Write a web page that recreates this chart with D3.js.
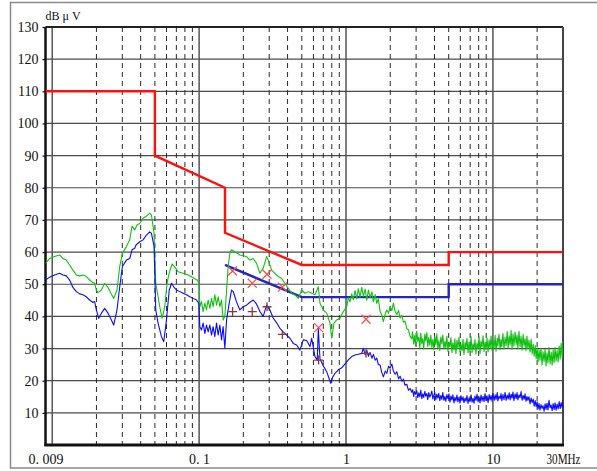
<!DOCTYPE html>
<html>
<head>
<meta charset="utf-8">
<script src="https://cdn.jsdelivr.net/npm/d3@7"></script>
<style>
  html, body { margin: 0; padding: 0; background: #fff; }
  svg { display: block; }
  text { font-family: "Liberation Serif", "DejaVu Serif", serif; fill: #111; }
</style>
</head>
<body>
<svg id="chart" width="597" height="471"></svg>
<script>
// Axis ticks
const yTickValues = [10, 20, 30, 40, 50, 60, 70, 80, 90, 100, 110, 120, 130];
const xTickValues = [0.009, 0.1, 1, 10, 30];
const xTickLabels = ["0. 009", "0. 1", "1", "10", "30MHz"];
const yUnit = "dB μ V";

// Limit lines (MHz, dBμV)
const qpLimitFreq = [0.009, 0.05, 0.05, 0.15, 0.15, 0.5, 5, 5, 30];
const qpLimitLevel = [110, 110, 90, 80, 66, 56, 56, 60, 60];
const avLimitFreq = [0.15, 0.5, 5, 5, 30];
const avLimitLevel = [56, 46, 46, 50, 50];

// Peak detector sweep, lower band [MHz, dBμV]
const peakSweep = [
  [0.009, 56.5], [0.0096, 58], [0.01038, 58.6], [0.01123, 59.1], [0.01183, 58], [0.01248, 57.5],
  [0.01314, 56], [0.01384, 54.4], [0.0146, 52.9], [0.01537, 52.6], [0.01619, 52.9], [0.01708, 52.4],
  [0.01798, 51.3], [0.01894, 50.5], [0.01945, 50.3], [0.01998, 48.2], [0.02049, 47.4], [0.02161, 48.2],
  [0.02276, 50.3], [0.02397, 49], [0.02528, 46.9], [0.02621, 45.6], [0.02761, 48.2], [0.0288, 55.5],
  [0.03004, 59.6], [0.032, 61.7], [0.03371, 63.8], [0.03494, 68.1], [0.03645, 66.9], [0.0378, 68.4],
  [0.03943, 68.9], [0.04154, 70.5], [0.0438, 71.2], [0.04613, 72.1], [0.04738, 71.5], [0.04935, 65.8],
  [0.05068, 50.3], [0.05254, 46.1], [0.05397, 43], [0.05596, 39.4], [0.05838, 43], [0.06052, 50.3],
  [0.06245, 53.4], [0.06546, 56.3], [0.06829, 55.3], [0.07192, 53.9], [0.0778, 53.4], [0.08414, 52.9],
  [0.091, 52], [0.09691, 51.3], [0.1, 50.3], [0.1011, 43], [0.1038, 44.6], [0.1065, 41.5],
  [0.1094, 44.1], [0.1123, 42], [0.1152, 45.1], [0.1183, 42.5], [0.1215, 45.6], [0.1245, 43],
  [0.1279, 46.7], [0.1314, 43.5], [0.1348, 46.1], [0.1384, 43], [0.1421, 45.1], [0.1457, 38.9],
  [0.1497, 40], [0.1538, 48.2], [0.1577, 55.5], [0.1619, 59.6], [0.1663, 60.7], [0.1752, 60.1],
  [0.1894, 59.1], [0.2104, 58.6], [0.2216, 57.5], [0.2334, 58], [0.2462, 56.5], [0.2593, 53.4],
  [0.2731, 55], [0.2881, 58.6], [0.2954, 57.5], [0.3115, 54.4], [0.3281, 53.4], [0.3455, 52.4],
  [0.3645, 51.8], [0.3839, 50.3], [0.4043, 48.7], [0.4264, 47.2], [0.4493, 46.7], [0.473, 45.6],
  [0.4989, 48.2], [0.5254, 47.2], [0.5534, 47.7], [0.5837, 47.2], [0.6148, 46.7], [0.6475, 49.2],
  [0.665, 44.1], [0.7003, 42], [0.7387, 41], [0.778, 37.9], [0.799, 33.2], [0.8284, 37.9],
  [0.8643, 38.9], [0.91, 39.4], [0.9585, 41.5], [1.0111, 43], [1.0368, 45.8], [1.0648, 44.5],
  [1.0936, 47], [1.1215, 45.2], [1.1518, 48], [1.1827, 45.5], [1.213, 48.6], [1.2458, 46],
  [1.2794, 49], [1.3119, 46.2], [1.35, 48.5], [1.384, 45], [1.42, 48.2], [1.4576, 45.8],
  [1.5, 47.6], [1.5351, 44.5], [1.58, 46.8], [1.6193, 44], [1.66, 45.5], [1.7055, 41.5],
  [1.75, 40.5], [1.7961, 38.4], [1.85, 40.8], [1.8943, 42], [1.95, 41], [1.9953, 43],
  [2.05, 41.8], [2.1014, 44.1], [2.16, 41.5], [2.2163, 40.6], [2.28, 41.8], [2.3341, 39.5],
  [2.4, 40.3], [2.4582, 38.2], [2.52, 38.5], [2.593, 36.2], [2.66, 35.8], [2.731, 33.8]
];

// Average detector sweep, lower band [MHz, dBμV]
const avgSweep = [
  [0.009, 51.3], [0.0096, 52.2], [0.01038, 52.9], [0.01123, 53.4], [0.01183, 52.9], [0.01248, 52.6],
  [0.01314, 51.3], [0.01384, 49], [0.0146, 47.7], [0.01537, 47], [0.01619, 46.7], [0.01708, 46.1],
  [0.01798, 45.1], [0.01894, 44.3], [0.01945, 44.6], [0.01998, 42], [0.02072, 39.4], [0.02161, 41],
  [0.02276, 42.5], [0.02397, 41], [0.02528, 38.9], [0.02621, 37.3], [0.02761, 42], [0.0288, 49.2],
  [0.03004, 55.5], [0.032, 57.5], [0.03371, 58], [0.03494, 60.7], [0.03645, 61.2], [0.0372, 62.2],
  [0.03943, 63.2], [0.04154, 63.8], [0.0438, 65.3], [0.04613, 66.3], [0.04738, 65.8], [0.04935, 61.7],
  [0.05068, 42], [0.05254, 37.9], [0.05543, 33.7], [0.05745, 32.1], [0.05994, 38.9], [0.0626, 48.2],
  [0.0649, 50.3], [0.0672, 49.2], [0.07015, 48.2], [0.0739, 47.7], [0.0778, 47.2], [0.0821, 46.7],
  [0.0864, 46.1], [0.091, 45.6], [0.096, 45.1], [0.0995, 44.1], [0.1011, 36.8], [0.1038, 35.8],
  [0.1065, 37.9], [0.1094, 34.7], [0.1123, 37.3], [0.1152, 35.2], [0.1183, 37.3], [0.1215, 34.2],
  [0.1245, 36.8], [0.1279, 33.7], [0.1314, 37.9], [0.1348, 34.2], [0.1384, 37.3], [0.1421, 32.7],
  [0.1457, 36.8], [0.1497, 30.1], [0.1538, 38.9], [0.1594, 43.5], [0.1663, 48.2], [0.1706, 47.7],
  [0.1752, 46.1], [0.1798, 44.5], [0.1894, 42], [0.1995, 43], [0.2104, 43.5], [0.2216, 44.4],
  [0.2334, 45.1], [0.2462, 43.8], [0.2593, 41.5], [0.2731, 40], [0.2881, 43.5], [0.3033, 42],
  [0.3194, 39.5], [0.337, 38], [0.3549, 36.3], [0.3738, 35.2], [0.3943, 34.2], [0.4152, 33.2],
  [0.4373, 31.6], [0.4613, 31.1], [0.4858, 29.5], [0.5116, 32.7], [0.5397, 32.5], [0.5683, 30.6],
  [0.5837, 33.2], [0.6148, 27.5], [0.6374, 26.4], [0.6475, 36.2], [0.665, 26.8], [0.7003, 24.6],
  [0.7387, 22.8], [0.7866, 19.2], [0.8116, 21.1], [0.8414, 22.3], [0.8863, 23.4], [0.9348, 24],
  [0.9845, 25.2], [1.0368, 26.5], [1.0936, 27.5], [1.1518, 28], [1.213, 28.2], [1.2794, 28.5],
  [1.3119, 30.1], [1.35, 28], [1.384, 29.5], [1.42, 27.6], [1.4576, 28.8], [1.5, 27],
  [1.5351, 28.2], [1.58, 26.4], [1.6193, 27], [1.66, 25], [1.7055, 24.9], [1.75, 22.6],
  [1.7961, 21.2], [1.85, 23], [1.8943, 22.3], [1.95, 24.5], [1.9953, 23.9], [2.05, 25.2],
  [2.1014, 23], [2.16, 22], [2.2163, 22.8], [2.28, 20.6], [2.3341, 21.4], [2.4, 19.8],
  [2.4582, 20.5], [2.52, 18.6], [2.593, 18.9], [2.66, 17], [2.731, 17.6]
];

// Upper band sweep: [MHz, peak dBμV, average dBμV]
const hfSweep = [
  [2.80, 33.0, 16.4], [2.84, 35.2, 17.2], [2.89, 31.4, 15.1], [2.93, 34.0, 16.6], [2.98, 30.8, 15.8],
  [3.03, 35.4, 16.9], [3.08, 32.2, 14.7], [3.13, 33.6, 16.2], [3.18, 30.2, 15.0], [3.23, 34.8, 17.1],
  [3.28, 31.6, 14.4], [3.33, 33.1, 15.9], [3.38, 29.9, 14.8], [3.44, 34.5, 16.7], [3.49, 32.4, 15.2],
  [3.55, 35.0, 16.0], [3.60, 30.6, 14.1], [3.66, 33.4, 16.3], [3.72, 31.0, 14.9], [3.78, 34.1, 15.6],
  [3.84, 30.4, 16.8], [3.90, 32.8, 14.3], [3.96, 29.6, 15.5], [4.02, 33.9, 16.4], [4.09, 31.2, 14.0],
  [4.15, 34.6, 15.8], [4.22, 30.1, 14.6], [4.28, 32.5, 16.1], [4.35, 29.4, 13.8], [4.42, 33.6, 15.4],
  [4.49, 31.5, 14.2], [4.56, 34.2, 16.3], [4.64, 29.8, 13.9], [4.71, 32.2, 15.1], [4.78, 30.3, 13.6],
  [4.86, 33.8, 15.7], [4.94, 29.2, 14.4], [5.02, 32.0, 15.9], [5.10, 30.6, 13.3], [5.18, 33.4, 15.2],
  [5.26, 28.7, 14.0], [5.34, 31.8, 15.6], [5.43, 29.5, 13.1], [5.51, 33.0, 14.8], [5.60, 28.4, 13.7],
  [5.69, 32.6, 15.5], [5.78, 30.0, 13.4], [5.88, 33.5, 14.9], [5.97, 28.9, 13.0], [6.06, 31.4, 15.3],
  [6.16, 29.3, 13.8], [6.26, 32.9, 15.0], [6.35, 28.1, 13.2], [6.46, 31.9, 14.6], [6.56, 30.2, 13.6],
  [6.66, 33.2, 15.4], [6.77, 28.6, 12.9], [6.88, 32.1, 14.7], [6.98, 29.0, 13.5], [7.10, 33.7, 15.6],
  [7.21, 28.8, 13.3], [7.32, 31.5, 14.5], [7.44, 29.6, 13.0], [7.55, 32.8, 15.2], [7.67, 28.3, 13.9],
  [7.80, 31.7, 15.8], [7.92, 29.9, 13.4], [8.05, 33.6, 14.9], [8.17, 28.5, 13.1], [8.30, 32.3, 15.5],
  [8.43, 30.4, 13.7], [8.57, 34.0, 15.1], [8.70, 29.1, 13.5], [8.84, 32.0, 16.0], [8.98, 29.7, 13.8],
  [9.12, 33.3, 15.3], [9.27, 28.9, 13.2], [9.42, 32.7, 15.7], [9.57, 30.1, 14.0], [9.72, 33.9, 15.4],
  [9.87, 29.4, 13.6], [10.0, 32.5, 16.1], [10.2, 30.3, 13.9], [10.35, 34.1, 15.6], [10.5, 29.2, 14.2],
  [10.7, 33.2, 16.3], [10.8, 30.8, 13.7], [11.0, 34.4, 15.2], [11.2, 29.6, 14.4], [11.35, 32.9, 16.0],
  [11.5, 30.5, 13.8], [11.7, 34.7, 15.7], [11.9, 29.9, 14.1], [12.1, 33.5, 16.4], [12.3, 30.9, 13.9],
  [12.5, 35.3, 15.5], [12.7, 30.2, 14.3], [12.9, 34.0, 16.2], [13.1, 31.1, 14.0], [13.3, 35.6, 15.8],
  [13.5, 29.8, 14.6], [13.7, 34.6, 16.5], [13.9, 30.7, 13.8], [14.15, 35.1, 15.9], [14.4, 31.3, 14.4],
  [14.6, 34.2, 16.3], [14.8, 29.9, 14.0], [15.05, 35.4, 15.6], [15.3, 30.6, 14.7], [15.55, 33.8, 16.6],
  [15.8, 29.5, 13.9], [16.05, 34.4, 15.4], [16.3, 30.8, 14.2], [16.55, 33.1, 15.9], [16.8, 29.4, 13.6],
  [17.05, 33.9, 15.1], [17.3, 30.0, 13.9], [17.6, 32.6, 15.0], [17.9, 28.9, 12.8], [18.2, 32.9, 14.6],
  [18.5, 28.3, 13.2], [18.8, 31.4, 14.3], [19.1, 27.6, 12.1], [19.4, 30.9, 13.8], [19.7, 26.8, 11.9],
  [20.0, 30.2, 13.4], [20.3, 25.9, 11.2], [20.6, 29.6, 12.9], [20.9, 26.4, 10.8], [21.25, 30.1, 12.6],
  [21.6, 24.9, 11.4], [21.95, 29.0, 12.2], [22.3, 26.0, 10.5], [22.65, 29.8, 12.8], [23.0, 24.6, 11.1],
  [23.35, 28.7, 13.0], [23.7, 25.5, 10.9], [24.1, 30.4, 13.9], [24.5, 25.2, 11.6], [24.9, 28.9, 12.4],
  [25.3, 24.8, 10.7], [25.7, 29.5, 12.9], [26.1, 25.6, 11.0], [26.5, 30.3, 13.1], [26.9, 26.1, 10.8],
  [27.35, 29.4, 12.7], [27.8, 25.8, 11.2], [28.25, 30.8, 13.5], [28.7, 26.7, 11.3], [29.15, 31.6, 13.2],
  [29.6, 27.2, 11.6], [30.0, 32.4, 13.8]
];

// Final measurements at selected frequencies
const finalFreq = [0.169, 0.23, 0.29, 0.369, 0.651, 1.369];
const finalQP = [54.1, 50.3, 53.1, 49.1, 36.5, 39.1];
const finalAV = [41.5, 41.5, 43.0, 34.4, 26.4, 28.5];

const svg = d3.select("#chart");
const plotLeft = 45.5, plotRight = 563, plotTop = 27, plotBottom = 445;

const x = d3.scaleLog().domain([0.009, 30]).range([plotLeft, plotRight]);
const y = d3.scaleLinear().domain([0, 130]).range([plotBottom, plotTop]);

// Outer frame (open on the right)
svg.append("path")
  .attr("d", `M597,2.5 H10.5 V468 H597`)
  .attr("fill", "none").attr("stroke", "#8a8a8a").attr("stroke-width", 1.5);

// Horizontal grid
svg.append("g").selectAll("line")
  .data(yTickValues.filter(v => v < 130))
  .join("line")
  .attr("x1", plotLeft).attr("x2", plotRight)
  .attr("y1", d => y(d)).attr("y2", d => y(d))
  .attr("stroke", "#4a4a4a").attr("stroke-width", 1.2);

// Vertical grid: solid decades, dashed intermediates
const decades = [0.01, 0.1, 1, 10];
const minors = [];
decades.forEach(dec => {
  for (let m = 2; m <= 9; m++) {
    const f = dec * m;
    if (f < 30) minors.push(f);
  }
});
svg.append("g").selectAll("line")
  .data(minors)
  .join("line")
  .attr("x1", d => x(d)).attr("x2", d => x(d))
  .attr("y1", plotTop).attr("y2", plotBottom)
  .attr("stroke", "#2a2a2a").attr("stroke-width", 1)
  .attr("stroke-dasharray", "5,4");
svg.append("g").selectAll("line")
  .data(decades)
  .join("line")
  .attr("x1", d => x(d)).attr("x2", d => x(d))
  .attr("y1", plotTop).attr("y2", plotBottom)
  .attr("stroke", "#555").attr("stroke-width", 1.5);

// Plot border
svg.append("line").attr("x1", plotLeft).attr("x2", plotRight).attr("y1", plotTop).attr("y2", plotTop)
  .attr("stroke", "#222").attr("stroke-width", 1.8);
svg.append("line").attr("x1", plotRight).attr("x2", plotRight).attr("y1", plotTop).attr("y2", plotBottom)
  .attr("stroke", "#444").attr("stroke-width", 2);
svg.append("line").attr("x1", plotLeft).attr("x2", plotLeft).attr("y1", plotTop).attr("y2", plotBottom + 1)
  .attr("stroke", "#111").attr("stroke-width", 2.5);
svg.append("line").attr("x1", plotLeft - 1).attr("x2", plotRight + 1).attr("y1", plotBottom).attr("y2", plotBottom)
  .attr("stroke", "#111").attr("stroke-width", 3);

// Y axis labels and ticks
const yAxis = d3.axisLeft(y).tickValues(yTickValues).tickSize(3).tickPadding(4).tickFormat(d3.format("d"));
const gy = svg.append("g").attr("transform", `translate(${plotLeft},0)`).call(yAxis);
gy.select(".domain").remove();
gy.selectAll(".tick line").attr("stroke", "#111").attr("stroke-width", 1.2);
gy.selectAll(".tick text")
  .attr("font-family", "Liberation Serif, DejaVu Serif, serif")
  .attr("font-size", 14).attr("fill", "#111");

// X axis labels
const xAxis = d3.axisBottom(x).tickValues(xTickValues).tickSize(0).tickPadding(0)
  .tickFormat((d, i) => xTickLabels[i]);
const gx = svg.append("g").attr("transform", `translate(0,${plotBottom})`).call(xAxis);
gx.select(".domain").remove();
gx.selectAll(".tick text")
  .attr("font-family", "Liberation Serif, DejaVu Serif, serif")
  .attr("font-size", 14).attr("fill", "#111")
  .attr("dy", null).attr("y", 19);
gx.selectAll(".tick text").filter((d, i) => i === xTickLabels.length - 1)
  .attr("textLength", 34).attr("lengthAdjust", "spacingAndGlyphs");

// Unit label
svg.append("text").attr("x", plotLeft).attr("y", 20)
  .attr("font-size", 12).attr("fill", "#111").text(yUnit);

// Clip for plotted data
svg.append("clipPath").attr("id", "plotClip")
  .append("rect").attr("x", plotLeft).attr("y", plotTop)
  .attr("width", plotRight - plotLeft).attr("height", plotBottom - plotTop);

const line = d3.line().x(d => x(d[0])).y(d => y(d[1]));
const plot = svg.append("g").attr("clip-path", "url(#plotClip)");

const peakData = peakSweep.concat(hfSweep.map(d => [d[0], d[1]]));
const avgData = avgSweep.concat(hfSweep.map(d => [d[0], d[2]]));

// Limit lines
plot.append("path")
  .datum(qpLimitFreq.map((f, i) => [f, qpLimitLevel[i]]))
  .attr("d", line).attr("fill", "none")
  .attr("stroke", "#ff1010").attr("stroke-width", 2.4);
plot.append("path")
  .datum(avLimitFreq.map((f, i) => [f, avLimitLevel[i]]))
  .attr("d", line).attr("fill", "none")
  .attr("stroke", "#2424c0").attr("stroke-width", 2.4);

// Measured traces
plot.append("path").datum(peakData).attr("d", line)
  .attr("fill", "none").attr("stroke", "#10c010").attr("stroke-width", 1.1)
  .attr("stroke-linejoin", "round");
plot.append("path").datum(avgData).attr("d", line)
  .attr("fill", "none").attr("stroke", "#0a0aff").attr("stroke-width", 1.1)
  .attr("stroke-linejoin", "round");

// Final measurement markers
const s = 4.5;
plot.append("g").selectAll("path")
  .data(finalFreq.map((f, i) => [f, finalQP[i]]))
  .join("path")
  .attr("d", d => {
    const cx = x(d[0]), cy = y(d[1]);
    return `M${cx - s},${cy - s}L${cx + s},${cy + s}M${cx - s},${cy + s}L${cx + s},${cy - s}`;
  })
  .attr("stroke", "#ff4a4a").attr("stroke-width", 1.2).attr("fill", "none");
plot.append("g").selectAll("path")
  .data(finalFreq.map((f, i) => [f, finalAV[i]]))
  .join("path")
  .attr("d", d => {
    const cx = x(d[0]), cy = y(d[1]);
    return `M${cx - s},${cy}L${cx + s},${cy}M${cx},${cy - s}L${cx},${cy + s}`;
  })
  .attr("stroke", "#8b3a3a").attr("stroke-width", 1.3).attr("fill", "none");
</script>
</body>
</html>
